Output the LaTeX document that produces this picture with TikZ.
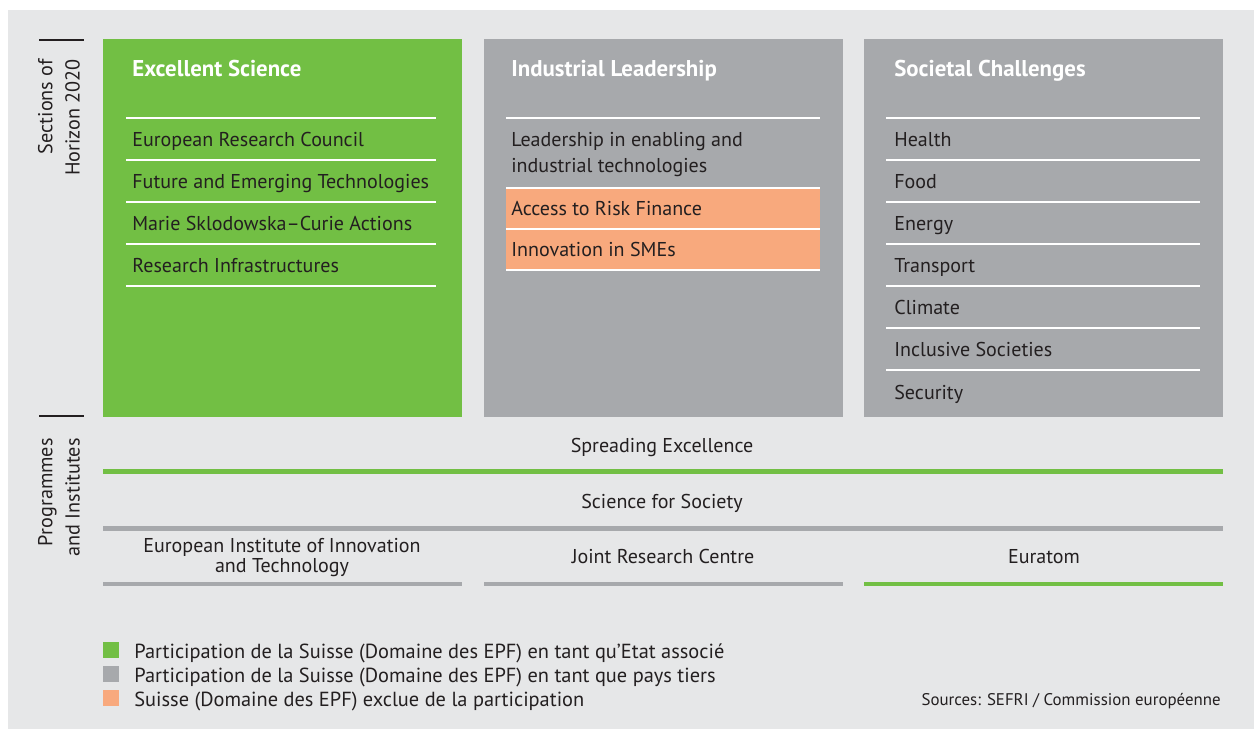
\documentclass[tikz,border=0pt]{standalone}
\usepackage{fontspec}
\setmainfont{PT Sans}
\usepackage{xcolor}
\usetikzlibrary{positioning}
\definecolor{esgreen}{HTML}{72BF44}
\definecolor{ilgray}{HTML}{A7A9AC}
\definecolor{exorange}{HTML}{F8A97D}
\definecolor{bggray}{HTML}{E6E7E8}
\definecolor{txt}{HTML}{231F20}

\begin{document}
\begin{tikzpicture}[x = 0.02cm, y = -0.02cm,
col/.style = {anchor = north west, minimum width = 7.18cm, minimum height = 7.56cm, inner sep = 0pt},
hdr/.style = {anchor = base west, inner sep = 0pt, text = white, font = \fontsize{13}{16}\selectfont\bfseries},
itm/.style = {anchor = base west, inner sep = 0pt, text = txt, font = \fontsize{11.4}{15}\selectfont, align = left},
sep/.style = {white, line width = 0.8pt},
bar/.style = {line width = 2.8pt},
prg/.style = {anchor = base, inner sep = 0pt, text = txt, font = \fontsize{11.4}{11.3}\selectfont, align = center},
side/.style = {rotate = 90, align = right, inner sep = 0pt, text = txt, font = \fontsize{11.5}{15.5}\selectfont},
key/.style = {anchor = north west, minimum size = 0.32cm, inner sep = 0pt},
lgd/.style = {anchor = base west, inner sep = 0pt, text = txt, font = \fontsize{11.6}{14}\selectfont}
]
\useasboundingbox (0,0) rectangle (1254,729);
\fill[bggray] (8,10) rectangle (1254,729);

% the three sections
\node[col, fill = esgreen] (es) at (103,39) {};
\node[col, fill = ilgray] (il) at (484,39) {};
\node[col, fill = ilgray] (sc) at (864,39) {};
\node[hdr] (es-h) at (132,77) {Excellent Science};
\node[hdr] (il-h) at (511,77) {Industrial Leadership};
\node[hdr] (sc-h) at (894,77) {Societal Challenges};

\fill[exorange] (506,188) rectangle (820,270);

\foreach \y in {118,160,202,244,286}{\draw[sep] (126,\y) -- (436,\y);}
\foreach \y in {118,188,229,270}{\draw[sep] (506,\y) -- (820,\y);}
\foreach \y in {118,160,202,244,286,328,370}{\draw[sep] (886,\y) -- (1200,\y);}

\foreach \y/\t [count = \i] in {147/European Research Council, 189/Future and Emerging Technologies,
  231/Marie Sklodowska--Curie Actions, 273/Research Infrastructures}{\node[itm] (es-\i) at (132,\y) {\t};}
\node[itm] (il-1) at (511,173) {Leadership in enabling and\\industrial technologies};
\node[itm] (il-2) at (511,216) {Access to Risk Finance};
\node[itm] (il-3) at (511,257) {Innovation in SMEs};
\foreach \y/\t [count = \i] in {147/Health, 189/Food, 231/Energy, 273/Transport, 315/Climate,
  357/Inclusive Societies, 399/Security}{\node[itm] (sc-\i) at (894,\y) {\t};}

% side labels
\draw[txt, line width = 0.6pt] (39,40) -- (84,40);
\draw[txt, line width = 0.6pt] (39,416) -- (84,416);
\node[side] (sect) at (59,117.5) {Sections of\\Horizon 2020};
\node[side] (prog) at (59,497.5) {Programmes\\and Institutes};

% programmes and institutes
\node[prg] (spread) at (662,452) {Spreading Excellence};
\draw[bar, esgreen] (103,471.5) -- (1223,471.5);
\node[prg] (sfs) at (662,508) {Science for Society};
\draw[bar, ilgray] (103,528.5) -- (1223,528.5);
\node[prg] (eit) at (282,572) {European Institute of Innovation\\and Technology};
\node[prg] (jrc) at (663,563) {Joint Research Centre};
\node[prg] (eur) at (1044,563) {Euratom};
\draw[bar, ilgray] (103,584) -- (462,584);
\draw[bar, ilgray] (484,584) -- (843,584);
\draw[bar, esgreen] (864,584) -- (1223,584);

% legend
\foreach \c/\y/\t [count = \i] in {esgreen/642/Participation de la Suisse (Domaine des EPF) en tant qu’Etat associé,
  ilgray/666/Participation de la Suisse (Domaine des EPF) en tant que pays tiers,
  exorange/690/Suisse (Domaine des EPF) exclue de la participation}{
  \node[key, fill = \c] (key-\i) at (103,\y) {};
  \node[lgd] (lgd-\i) at (134,\y+16) {\t};
}
\node[anchor = base east, inner sep = 0pt, text = txt, font = \fontsize{9.6}{12}\selectfont] (src) at (1221,705) {Sources: SEFRI / Commission européenne};
\end{tikzpicture}
\end{document}
